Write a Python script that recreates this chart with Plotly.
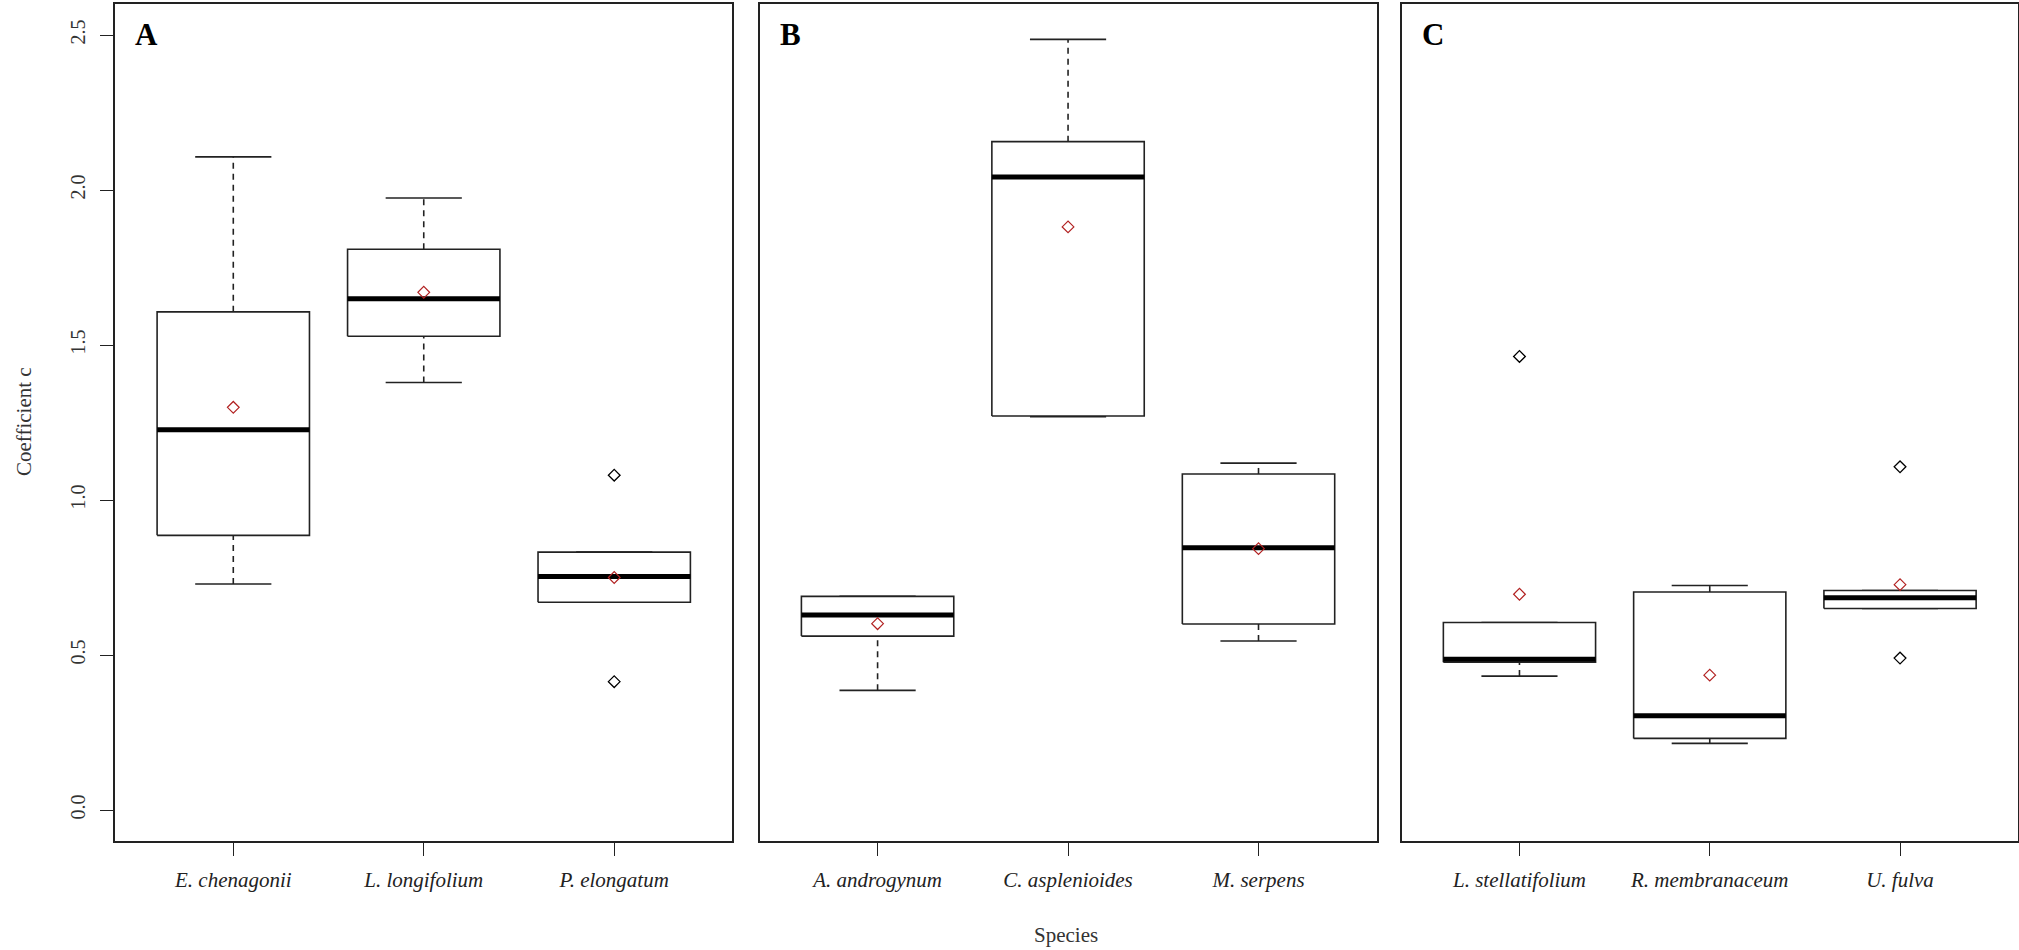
import plotly.graph_objects as go

# Coefficient c summaries per species (boxplot statistics), three panels
species_a = ["E. chenagonii", "L. longifolium", "P. elongatum"]
lower_a = [0.729, 1.379, 0.670]
q1_a = [0.886, 1.528, 0.670]
median_a = [1.227, 1.649, 0.753]
q3_a = [1.607, 1.809, 0.832]
upper_a = [2.107, 1.974, 0.832]
mean_a = [1.299, 1.670, 0.750]
outliers_a = [[], [], [1.080, 0.414]]

species_b = ["A. androgynum", "C. asplenioides", "M. serpens"]
lower_b = [0.386, 1.269, 0.545]
q1_b = [0.561, 1.271, 0.600]
median_b = [0.629, 2.042, 0.846]
q3_b = [0.689, 2.156, 1.084]
upper_b = [0.689, 2.486, 1.119]
mean_b = [0.601, 1.881, 0.843]
outliers_b = [[], [], []]

species_c = ["L. stellatifolium", "R. membranaceum", "U. fulva"]
lower_c = [0.432, 0.215, 0.650]
q1_c = [0.477, 0.231, 0.650]
median_c = [0.486, 0.304, 0.685]
q3_c = [0.605, 0.703, 0.708]
upper_c = [0.605, 0.724, 0.708]
mean_c = [0.696, 0.435, 0.727]
outliers_c = [[1.463], [], [1.107, 0.490]]

panel_letters = ["A", "B", "C"]
y_ticks = [0.0, 0.5, 1.0, 1.5, 2.0, 2.5]

panels = [
    (species_a, lower_a, q1_a, median_a, q3_a, upper_a, mean_a, outliers_a),
    (species_b, lower_b, q1_b, median_b, q3_b, upper_b, mean_b, outliers_b),
    (species_c, lower_c, q1_c, median_c, q3_c, upper_c, mean_c, outliers_c),
]

W, H = 2019, 950
x_domains = [(115.2, 732.3), (759.5, 1376.6), (1401.5, 2018.0)]
y_domain = [(950 - 841) / 950, (950 - 4) / 950]

BOX_HALF = 0.4
STAPLE_HALF = 0.2
SERIF = "Liberation Serif, Times New Roman, serif"

fig = go.Figure()

for p, (names, lo, q1, med, q3, hi, mn, outs) in enumerate(panels):
    suffix = "" if p == 0 else str(p + 1)
    xa, ya = "x" + suffix, "y" + suffix
    pos = list(range(1, len(names) + 1))

    bx, by, mx, my, wx, wy, sx, sy = [], [], [], [], [], [], [], []
    ox, oy = [], []
    for i, x in enumerate(pos):
        bx += [x - BOX_HALF, x + BOX_HALF, x + BOX_HALF, x - BOX_HALF, x - BOX_HALF, None]
        by += [q1[i], q1[i], q3[i], q3[i], q1[i], None]
        mx += [x - BOX_HALF, x + BOX_HALF, None]
        my += [med[i], med[i], None]
        wx += [x, x, None, x, x, None]
        wy += [q3[i], hi[i], None, lo[i], q1[i], None]
        sx += [x - STAPLE_HALF, x + STAPLE_HALF, None, x - STAPLE_HALF, x + STAPLE_HALF, None]
        sy += [hi[i], hi[i], None, lo[i], lo[i], None]
        for v in outs[i]:
            ox.append(x)
            oy.append(v)

    common = dict(xaxis=xa, yaxis=ya, showlegend=False, hoverinfo="skip")
    fig.add_trace(go.Scatter(x=wx, y=wy, mode="lines",
                             line=dict(color="#222", width=1.6, dash="6px,5px"), **common))
    fig.add_trace(go.Scatter(x=sx, y=sy, mode="lines",
                             line=dict(color="#222", width=1.6), **common))
    fig.add_trace(go.Scatter(x=bx, y=by, mode="lines", fill="toself", fillcolor="white",
                             line=dict(color="#222", width=1.6), **common))
    fig.add_trace(go.Scatter(x=mx, y=my, mode="lines",
                             line=dict(color="black", width=5), **common))
    if ox:
        fig.add_trace(go.Scatter(x=ox, y=oy, mode="markers",
                                 marker=dict(symbol="diamond-open", size=9, color="black",
                                             line=dict(width=1.3)), **common))
    fig.add_trace(go.Scatter(x=pos, y=mn, mode="markers",
                             marker=dict(symbol="diamond-open", size=9, color="#b22222",
                                         line=dict(width=1.2)), **common))

    d0, d1 = x_domains[p]
    fig.update_layout({
        ("xaxis" + suffix): dict(
            domain=[d0 / W, d1 / W], range=[0.38, 3.62], anchor=ya,
            tickmode="array", tickvals=pos, ticktext=names,
            ticks="outside", ticklen=13, tickwidth=1.2, tickcolor="#222",
            tickfont=dict(family=SERIF, size=21, color="#222", style="italic"),
            ticklabelstandoff=6,
            showline=True, mirror=True, linecolor="#222", linewidth=2,
            showgrid=False, zeroline=False, fixedrange=True,
        ),
        ("yaxis" + suffix): dict(
            domain=list(y_domain), range=[-0.1, 2.6], anchor=xa,
            tickmode="array", tickvals=y_ticks,
            ticktext=[f"{v:.1f}" for v in y_ticks],
            ticks="outside" if p == 0 else "", ticklen=13, tickwidth=1.2, tickcolor="#222",
            showticklabels=(p == 0), tickangle=-90,
            tickfont=dict(family=SERIF, size=20, color="#333"),
            ticklabelstandoff=7,
            showline=True, mirror=True, linecolor="#222", linewidth=2,
            showgrid=False, zeroline=False, fixedrange=True,
        ),
    })

    fig.add_annotation(text="<b>%s</b>" % panel_letters[p], xref=xa + " domain", yref=ya,
                       x=0, xshift=18, y=2.5, xanchor="left", yanchor="middle",
                       showarrow=False, font=dict(family=SERIF, size=31, color="black"))

fig.add_annotation(text="Coefficient c", xref="paper", yref="paper",
                   x=24 / W, y=(950 - 422) / 950, textangle=-90,
                   xanchor="center", yanchor="middle", showarrow=False,
                   font=dict(family=SERIF, size=21, color="#333"))
fig.add_annotation(text="Species", xref="paper", yref="paper",
                   x=1066 / W, y=(950 - 935) / 950,
                   xanchor="center", yanchor="middle", showarrow=False,
                   font=dict(family=SERIF, size=21, color="#333"))

fig.update_layout(
    width=W, height=H,
    margin=dict(l=0, r=0, t=0, b=0),
    paper_bgcolor="white", plot_bgcolor="white",
)

fig.write_html("out.html")
